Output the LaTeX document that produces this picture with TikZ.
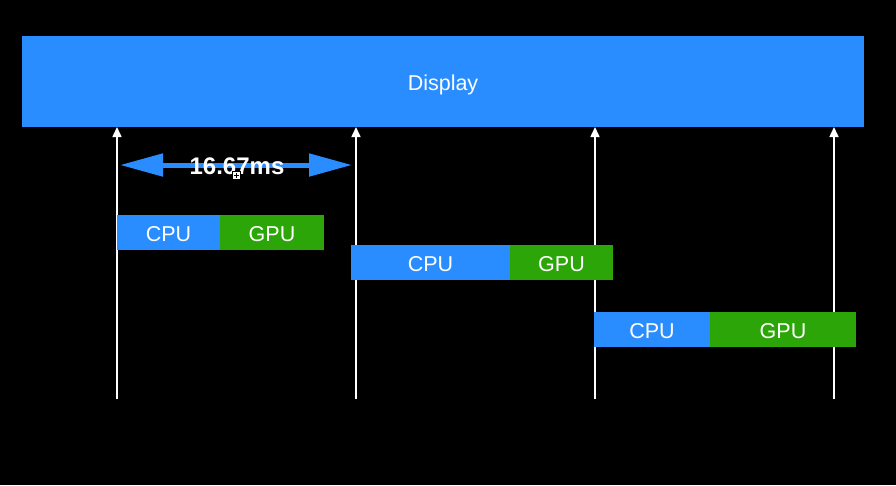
\documentclass[tikz,border=0pt]{standalone}
\usepackage{fontspec}
\setmainfont{Liberation Sans}
\usetikzlibrary{arrows.meta}
\definecolor{dblue}{RGB}{41,141,255}
\definecolor{dgreen}{RGB}{44,165,8}
\begin{document}
\begin{tikzpicture}[x=1pt,y=-1pt,
  txt/.style={text=white,font=\fontsize{21.5}{24}\selectfont,text height=17pt,text depth=0pt},
  bar/.style={txt,draw=none,minimum height=35pt,inner sep=0pt},
  cpu/.style={bar,fill=dblue},
  gpu/.style={bar,fill=dgreen},
  vsync/.style={draw=white,line width=1.6pt,-{Triangle[length=10pt,width=9pt]}}]
\fill[black] (0,0) rectangle (896,485);
\useasboundingbox (0,0) rectangle (896,485);
\node[txt,fill=dblue,minimum width=842pt,minimum height=91pt,inner sep=0pt] (display) at (443,81.5) {Display};
% vsync lines
\foreach \i/\x in {1/117,2/356,3/595,4/834}{
  \coordinate (b\i) at (\x,399);
  \coordinate (t\i) at (\x,127);
  \draw[vsync] (b\i) -- (t\i);
}
% bars
\node[cpu,minimum width=103pt] (cpu1) at (168.5,232.5) {CPU};
\node[gpu,minimum width=104pt] (gpu1) at (272,232.5) {GPU};
\node[cpu,minimum width=159pt] (cpu2) at (430.5,262.5) {CPU};
\node[gpu,minimum width=103pt] (gpu2) at (561.5,262.5) {GPU};
\node[cpu,minimum width=116pt] (cpu3) at (652,329.5) {CPU};
\node[gpu,minimum width=146pt] (gpu3) at (783,329.5) {GPU};
% interval arrow
\coordinate (al) at (120,165);
\coordinate (ar) at (352,165);
\draw[dblue,line width=5pt,{Triangle[length=43pt,width=22pt]}-{Triangle[length=43pt,width=22pt]}] (al) -- (ar);
\node[text=white,font=\bfseries\fontsize{24}{28}\selectfont,inner sep=0pt,anchor=base] (lbl) at (237,174) {16.67ms};
\node[draw=black,fill=white,minimum size=8pt,inner sep=0pt,line width=0.6pt] (handle) at (236,175) {};
\draw[black,line width=0.8pt] ([xshift=-2.5pt]handle.center) -- ([xshift=2.5pt]handle.center) ([yshift=-2.5pt]handle.center) -- ([yshift=2.5pt]handle.center);
\end{tikzpicture}
\end{document}
